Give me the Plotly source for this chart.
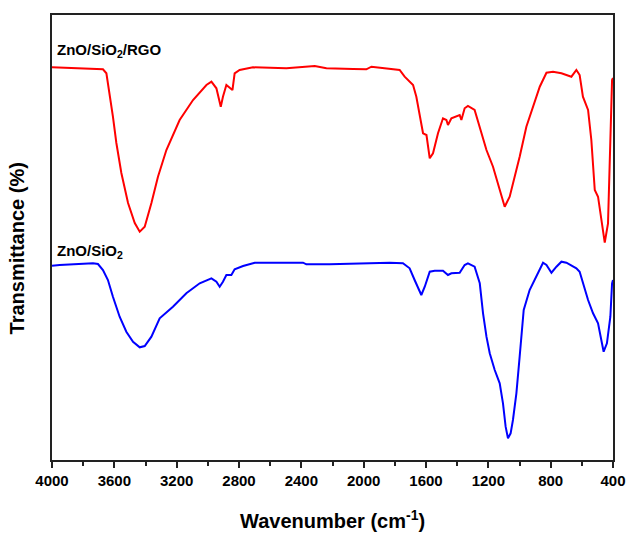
import plotly.graph_objects as go

# Wavenumber (cm^-1) and transmittance (a.u.)
rgo_wn = [4000, 3673, 3651, 3630, 3609, 3587, 3555, 3512, 3469, 3437, 3405, 3362, 3320, 3266,
          3181, 3095, 3009, 2977, 2945, 2917, 2903, 2881, 2860, 2842, 2828, 2796, 2710, 2496,
          2314, 2239, 2068, 1983, 1950, 1854, 1769, 1737, 1705, 1683, 1662, 1640, 1619, 1597,
          1576, 1555, 1523, 1491, 1469, 1459, 1437, 1384, 1373, 1352, 1331, 1288, 1255, 1212,
          1170, 1127, 1095, 1063, 1031, 999, 956, 913, 870, 827, 785, 731, 667, 635, 614, 593,
          560, 539, 517, 496, 453, 432, 417, 406, 400]
rgo_t = [392.7, 390.7, 386.7, 366.7, 343.3, 317, 287, 257, 237, 228.3, 233.3, 257, 283.3, 310,
         340, 360, 375, 378.3, 371.7, 353.3, 363.3, 375, 372, 370, 386.7, 390, 392.7, 391.7,
         394, 391.7, 391, 390.7, 393.3, 391.7, 390, 383.3, 378.3, 375, 363.3, 343.3, 326.7, 325,
         301.7, 306.7, 326.7, 341.7, 340, 335, 341.7, 345, 340, 351.7, 354, 350, 333.3, 310,
         293.3, 270, 253.3, 263.3, 283.3, 303.3, 333.3, 353.3, 373.3, 387.3, 388.3, 386.7, 383.3, 390, 385, 363.3,
         350, 320, 270, 263.3, 217.3, 236.7, 310, 380, 382]

zs_wn = [4000, 3951, 3737, 3705, 3673, 3641, 3609, 3566, 3523, 3480, 3437, 3405, 3362, 3309,
         3224, 3138, 3052, 2977, 2945, 2924, 2903, 2881, 2849, 2828, 2774, 2699, 2389, 2368,
         2218, 1961, 1833, 1748, 1705, 1673, 1630, 1608, 1576, 1544, 1491, 1459, 1437, 1384,
         1352, 1331, 1288, 1255, 1234, 1212, 1191, 1159, 1127, 1106, 1089, 1074, 1057, 1042,
         1020, 999, 973, 935, 892, 849, 827, 795, 763, 731, 699, 635, 614, 593, 560, 528, 496,
         475, 460, 439, 417, 406, 400]
zs_t = [194.3, 195, 196.7, 196, 190, 180, 163.3, 143.3, 128.3, 118.3, 112.7, 114, 123.3, 141.7,
        153.3, 166.7, 176.7, 181.7, 178.3, 173.3, 178.3, 185, 185, 190.7, 194, 197.3, 197.3, 195.7,
        195.7, 196.7, 197.3, 196.7, 191.7, 180, 165, 173.3, 188.3, 189.3, 189.3, 185, 186.7, 187.3,
        195, 196.7, 193.3, 176.7, 146.7, 123.3, 106.7, 90, 76.7, 56.7, 33.3, 21.7, 26.7, 40,
        66.7, 103.3, 150, 170, 183.3, 197.3, 195, 187.3, 193.3, 198.3, 197.3, 191.7, 188.3, 176.7, 160, 146.7, 136.7,
        120, 108.3, 116.7, 143.3, 176.7, 180]

x_ticks = [4000, 3600, 3200, 2800, 2400, 2000, 1600, 1200, 800, 400]

FONT = "Liberation Sans, Arial, sans-serif"

fig = go.Figure()
fig.add_trace(go.Scatter(x=rgo_wn, y=rgo_t, mode="lines",
                         line=dict(color="#ff0000", width=2), showlegend=False))
fig.add_trace(go.Scatter(x=zs_wn, y=zs_t, mode="lines",
                         line=dict(color="#0000ff", width=2), showlegend=False))

fig.update_layout(
    width=627, height=534, autosize=False,
    margin=dict(l=52, r=14, t=15, b=74, autoexpand=False),
    paper_bgcolor="white", plot_bgcolor="white",
    font=dict(family=FONT, color="black"),
    xaxis=dict(range=[4000, 400], tickvals=x_ticks,
               ticktext=["<b>%d</b>" % v for v in x_ticks],
               ticks="outside", ticklen=6, tickwidth=1.5, tickcolor="#222",
               minor=dict(ticks="outside", ticklen=4, dtick=200, tickwidth=1.5, tickcolor="#222", showgrid=False),
               showline=True, linecolor="#222", linewidth=2, mirror=True,
               showgrid=False, zeroline=False, automargin=False,
               tickfont=dict(size=15, family=FONT, color="black")),
    yaxis=dict(range=[0, 445], showticklabels=False, ticks="",
               showline=True, linecolor="#222", linewidth=2, mirror=True,
               showgrid=False, zeroline=False, automargin=False),
    annotations=[
        dict(text="<b>Wavenumber (cm<sup>-1</sup>)</b>", xref="paper", yref="paper",
             x=0.5, y=-0.133, xanchor="center", yanchor="middle", showarrow=False,
             font=dict(size=20, family=FONT, color="black")),
        dict(text="<b>Transmittance (%)</b>", xref="paper", yref="paper",
             x=-0.062, y=0.476, xanchor="center", yanchor="middle", textangle=-90,
             showarrow=False, font=dict(size=20, family=FONT, color="black")),
        dict(text="<b>ZnO/SiO<sub>2</sub>/RGO</b>", xref="paper", yref="paper",
             x=0.006, y=0.92, xanchor="left", yanchor="middle", showarrow=False,
             font=dict(size=15, family=FONT, color="black")),
        dict(text="<b>ZnO/SiO<sub>2</sub></b>", xref="paper", yref="paper",
             x=0.006, y=0.468, xanchor="left", yanchor="middle", showarrow=False,
             font=dict(size=15, family=FONT, color="black")),
    ],
)

fig.write_html("out.html", config={"displayModeBar": False, "responsive": False},
               post_script="document.body.style.margin='0';document.body.style.overflow='hidden';")
